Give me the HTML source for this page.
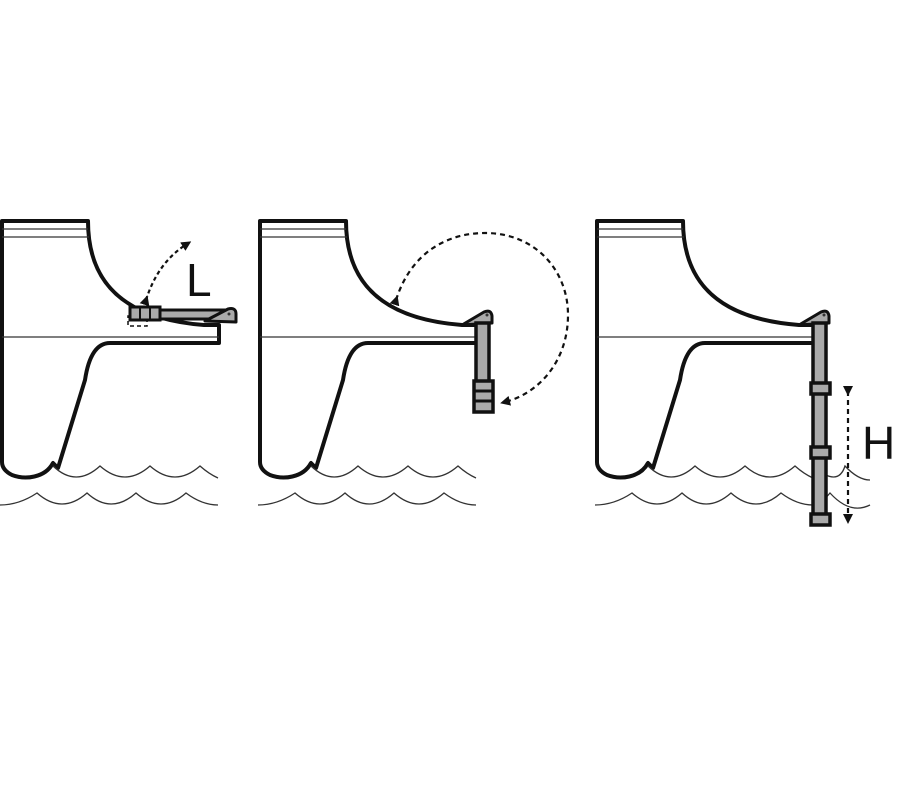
<!DOCTYPE html>
<html><head><style>html,body{margin:0;padding:0;background:#fff}svg{display:block}</style></head>
<body>
<svg width="900" height="800" viewBox="0 0 900 800" xmlns="http://www.w3.org/2000/svg">
<defs>
<g id="boat">
  <path d="M2,221 L88,221 C88,270 110,318 204,325 L219,325 L219,343 L110,343 C95,343 88,360 85,380 L58,468 L53,463 C45,478 25,480 12,475 Q2,470 2,462 Z" fill="#fff" stroke="#111" stroke-width="4" stroke-linejoin="round"/>
  <line x1="2" y1="229" x2="88" y2="229" stroke="#333" stroke-width="1.3"/>
  <line x1="2" y1="237" x2="89" y2="237" stroke="#333" stroke-width="1.3"/>
  <line x1="2" y1="337" x2="219" y2="337" stroke="#333" stroke-width="1.3"/>
  <path d="M53,466 Q76,488 100,466 Q125,488 150,466 Q175,488 200,466 Q209,474 218,478" fill="none" stroke="#333" stroke-width="1.3"/>
  <path d="M0,505 Q19,505 37,493 Q62,515 87,493 Q111,515 136,493 Q161,515 186,493 Q202,505 218,505" fill="none" stroke="#333" stroke-width="1.3"/>
</g>
<marker id="ah" markerWidth="10" markerHeight="10" refX="5" refY="5" orient="auto" markerUnits="userSpaceOnUse"><path d="M0,0 L10,5 L0,10 Z" fill="#111"/></marker>
</defs>

<use href="#boat"/>
<use href="#boat" x="258"/>
<use href="#boat" x="595"/>
<path d="M813,466 Q838,488 845,466 Q858,480 870,480" fill="none" stroke="#333" stroke-width="1.3"/>
<path d="M813,505 Q820,505 830,493 Q850,515 870,505" fill="none" stroke="#333" stroke-width="1.3"/>

<!-- Panel 1 ladder folded -->
<rect x="128" y="316" width="19" height="10" fill="none" stroke="#111" stroke-width="1.5" stroke-dasharray="4,3"/>
<rect x="130" y="307" width="30" height="13" fill="#aaa" stroke="#111" stroke-width="3"/>
<line x1="140" y1="307" x2="140" y2="320" stroke="#111" stroke-width="2"/>
<line x1="150" y1="307" x2="150" y2="320" stroke="#111" stroke-width="2"/>
<rect x="160" y="310" width="65" height="9" fill="#aaa" stroke="#111" stroke-width="3"/>
<path d="M205,321 L228,309 Q236,307 236,314 L236,322 Z" fill="#aaa" stroke="#111" stroke-width="3" stroke-linejoin="round"/>
<circle cx="229" cy="314" r="1.5" fill="#333"/>
<path d="M146,300 Q158,262 187,244" fill="none" stroke="#111" stroke-width="2.2" stroke-dasharray="4,3" marker-end="url(#ah)" marker-start="url(#ah)"/>
<text x="186" y="296" font-family="Liberation Sans, sans-serif" font-size="46" fill="#111">L</text>

<!-- Panel 2 ladder -->
<path d="M462,325 L484,312 Q491,309 492,316 L492,323 Z" fill="#aaa" stroke="#111" stroke-width="3" stroke-linejoin="round"/>
<circle cx="487" cy="315" r="1.5" fill="#333"/>
<rect x="476" y="323" width="13" height="59" fill="#aaa" stroke="#111" stroke-width="3.5"/>
<rect x="474" y="381" width="19" height="31" fill="#aaa" stroke="#111" stroke-width="3.5"/>
<line x1="474" y1="391" x2="493" y2="391" stroke="#111" stroke-width="3"/>
<line x1="474" y1="401" x2="493" y2="401" stroke="#111" stroke-width="3"/>
<path d="M396,300 C412,250 450,233 485,233 C535,233 568,270 568,315 C568,360 540,393 505,402" fill="none" stroke="#111" stroke-width="2.2" stroke-dasharray="5,4" marker-end="url(#ah)" marker-start="url(#ah)"/>

<!-- Panel 3 ladder -->
<path d="M799,325 L821,312 Q828,309 829,316 L829,323 Z" fill="#aaa" stroke="#111" stroke-width="3" stroke-linejoin="round"/>
<circle cx="824" cy="315" r="1.5" fill="#333"/>
<rect x="813" y="323" width="13" height="198" fill="#aaa" stroke="#111" stroke-width="3.5"/>
<rect x="811" y="383" width="19" height="11" fill="#aaa" stroke="#111" stroke-width="3.5"/>
<rect x="811" y="447" width="19" height="11" fill="#aaa" stroke="#111" stroke-width="3.5"/>
<rect x="811" y="514" width="19" height="11" fill="#aaa" stroke="#111" stroke-width="3.5"/>
<line x1="848" y1="391" x2="848" y2="519" stroke="#111" stroke-width="2.2" stroke-dasharray="5,4" marker-end="url(#ah)" marker-start="url(#ah)"/>
<text x="862" y="459" font-family="Liberation Sans, sans-serif" font-size="46" fill="#111">H</text>
</svg>
</body></html>
